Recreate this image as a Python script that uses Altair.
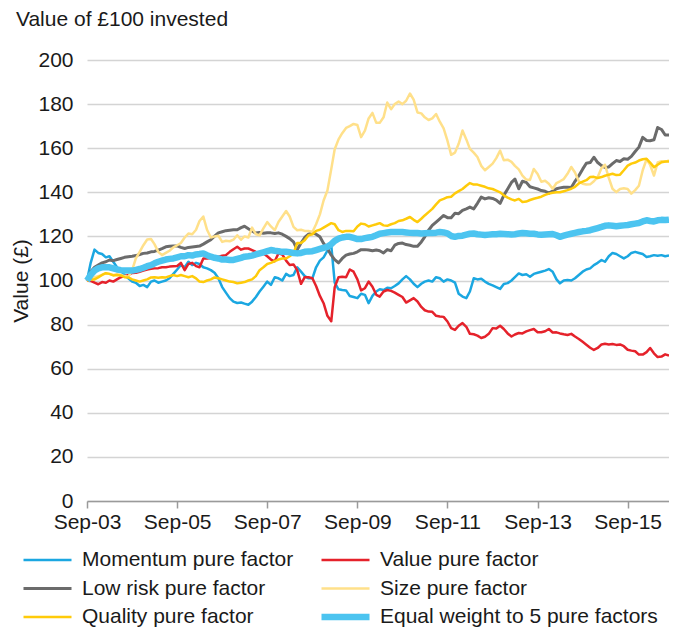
import altair as alt
import pandas as pd

dates = pd.date_range("2003-09-01", "2016-08-01", freq="MS").strftime("%Y-%m-%d").tolist()

momentum = [100, 108, 114, 112.5, 112, 110.5, 111, 108.5, 106, 104.5,
            102.5, 101, 99.5, 99, 97.5, 98, 97, 99.5, 100, 99,
            99.5, 100, 101, 103, 105, 107, 106, 108.5, 107, 108,
            107.5, 106, 105.5, 104.7, 103.5, 101, 97, 94.5, 92, 90.4,
            89.8, 90, 89.5, 89, 90.4, 92.5, 95, 97.2, 99.5, 98,
            101.5, 101, 100, 103, 102, 102.5, 106, 104, 102, 101,
            101, 106, 109, 110.5, 113.5, 116, 99, 96, 95.7, 95.5,
            93, 92.5, 92, 94, 93.5, 89.7, 93, 95, 96, 95.7,
            96.7, 96.5, 97.5, 98.7, 100.5, 102, 100.5, 98.5, 97, 98.5,
            99.5, 100, 99.5, 101.5, 101, 99.5, 100.5, 100, 99, 94,
            92.7, 92, 95, 101, 100.5, 100.8, 99.5, 98.5, 97.8, 97,
            96.2, 98.4, 98.8, 100, 101.5, 103.2, 102.5, 102.8, 101.7, 103,
            103.5, 104, 104.5, 105.2, 104, 100.5, 98.7, 100, 100.2, 100,
            101, 102.5, 104, 105, 105.5, 107, 108, 109.3, 108.5, 111,
            112.5, 112, 111, 110, 111, 112.5, 113, 112.5, 112, 110.7,
            111, 111.5, 111.2, 111.5, 111, 111.3]

value = [100, 99.8, 99, 98.3, 99.3, 99, 100, 99.5, 100.5, 101.5,
         102, 102.5, 103.4, 103.5, 104, 104.5, 105, 105.3, 105.5, 105.6,
         106, 106, 106.3, 106.5, 106.6, 108, 104.7, 107.5, 108, 106.5,
         106, 110, 110, 110.2, 110.5, 110.8, 111.2, 111.5, 113, 114.2,
         115.3, 114, 114.5, 114.5, 113.8, 113, 112.3, 112.3, 111, 109.5,
         108.7, 112.3, 111.8, 109, 107, 107.3, 104.7, 98.5, 101.5, 101.5,
         101, 97.5, 93, 89.7, 84, 81.5, 97, 101.5, 101.7, 101.5,
         105, 104, 100.5, 95.5, 96.5, 99.5, 97.2, 93.5, 92.7, 95,
         95.7, 95.3, 94.5, 93.5, 92.5, 90, 91, 92, 90.5, 88,
         86.5, 85.9, 85.8, 84, 83.7, 83.5, 81.4, 78.4, 77.6, 79.5,
         80.7, 79, 75.8, 75.6, 75, 73.9, 74.5, 75.8, 78.4, 78.2,
         79.5, 78, 76, 74.6, 75.5, 76.2, 76, 76.9, 77.5, 78,
         76.5, 76.5, 77, 78, 76.4, 76.5, 76, 75.6, 75.3, 75.8,
         74.6, 73.5, 72.2, 70.9, 69.5, 68.5, 69.4, 71, 71.3, 71,
         71.2, 70.8, 71, 70.2, 68.6, 68.2, 67.9, 66.4, 66.4, 67.5,
         69.4, 67, 65.3, 65.5, 66.5, 65.9]

low_risk = [100, 104, 106, 107, 108, 108.5, 109.3, 109, 109.5, 110,
            110.5, 110.8, 111, 111.3, 111.8, 112.3, 112.5, 113, 113.2, 113.8,
            114.5, 115.3, 115.5, 115.6, 115.7, 115, 114.5, 115, 115.2, 115.4,
            115.6, 116.5, 117.5, 118.5, 120.1, 121.6, 122.1, 122.6, 122.8, 123,
            123, 124, 124.6, 123.5, 122.5, 121.5, 121.8, 121.4, 121.7, 121.6,
            121.3, 121.6, 121, 120, 119, 117.5, 114, 117, 119.5, 121,
            121.6, 121, 119.8, 116.8, 114.5, 111.5, 109.5, 108, 110, 111.5,
            112, 112.3, 113, 114, 114, 113.8, 113.5, 113.8, 113.5, 112.5,
            114, 113.5, 116, 116.8, 117, 116.3, 116, 115.5, 115.5, 117.5,
            119.8, 122.8, 125, 126.5, 128, 129.5, 128.5, 128.5, 130.5, 130.3,
            131.8, 132.5, 133.3, 132.5, 135, 137.8, 137, 137.5, 137.2, 136.5,
            135, 138.6, 141.5, 144.5, 146, 141.6, 145, 144.5, 142.5, 142,
            141.5, 140.8, 140.5, 139.6, 140.5, 141.6, 142, 142.3, 142.3, 142.2,
            145, 147.5, 150.5, 153.2, 153.5, 155.9, 153.5, 152.1, 151.3, 151.5,
            153, 154.4, 154, 155.2, 155, 156.3, 158.5, 160.5, 164.9, 163.5,
            163.4, 163.8, 169.4, 168.5, 166, 166]

size = [100, 100.5, 101.5, 102, 102.5, 103.3, 103, 102.5, 102.8, 102.5,
        102, 101.7, 104.7, 110, 113, 116, 118.6, 118.8, 116.5, 113,
        111.5, 112.5, 113.5, 115, 116, 117, 119.5, 121.3, 121, 123,
        127, 129, 123, 119.5, 120, 120.3, 117.5, 118, 117.8, 118.5,
        120.5, 118.5, 120, 119.5, 124, 121, 120.5, 123.6, 126.5, 124.5,
        122.8, 126.5, 129, 131.5, 129, 124.3, 122.8, 123, 122.5, 122.5,
        122, 125.5, 130, 136.3, 140.8, 150.5, 159.5, 164, 166.8, 169.2,
        170, 171, 170.5, 165, 168, 173.5, 176, 171.5, 171.5, 174,
        180.7, 177.7, 180, 181.2, 180, 181.5, 184.8, 182, 176.2, 175.8,
        174, 172.8, 173.5, 175.5, 172, 169, 163.4, 157, 158, 162,
        168, 164, 159.7, 158, 156, 152, 150, 151.5, 153, 155.5,
        158.9, 154.5, 154.8, 153.8, 152, 150.4, 147.6, 145.8, 145.6, 150.6,
        148.3, 144.8, 145.2, 143.9, 141.6, 144.2, 145, 146, 148.4, 151.5,
        149, 145, 143.9, 143.5, 143.6, 145, 146.9, 151, 152.5, 146.5,
        141.6, 140.1, 141.5, 141.8, 141.5, 139.4, 141, 143, 150, 155,
        152.5, 147.6, 153.5, 154.1, 153.8, 154.4]

quality = [100, 100.5, 100.5, 101.4, 102.5, 103.3, 103, 102.3, 102.5, 102.3,
           101.5, 101.4, 100.5, 100, 99.5, 100, 100.5, 101.4, 101.5, 101.2,
           101.5, 101.4, 102, 102.5, 102, 102.5, 102, 101.5, 102, 101,
           99.5, 99.3, 100, 100.5, 101.4, 101, 100.5, 100, 99.5, 99.3,
           98.7, 99, 99.3, 100, 100.5, 102, 104.7, 106, 107.5, 108,
           108.8, 109.5, 110, 110, 111, 112.3, 117, 117, 118.3, 120.5,
           121, 122.5, 123, 124, 125, 126, 125.5, 122.8, 122, 122.5,
           122.5, 122.3, 124.5, 125.8, 125.5, 124.5, 125, 125.5, 126, 125,
           124.8, 125.5, 126, 127, 127.3, 128, 128.8, 127.5, 126.5, 128,
           129.5, 131, 132.5, 134.5, 136.3, 137, 137.8, 138, 139.5, 140.5,
           141.5, 143, 144.2, 143.5, 143.5, 143, 142.5, 141.8, 141.5, 140.8,
           140, 138.6, 137.6, 136.8, 136.3, 137, 135.6, 135.8, 136.5, 137.1,
           137.5, 138, 138.8, 139.4, 139.8, 140, 140, 140.5, 141, 141.6,
           142.5, 144, 144.8, 145.5, 146.9, 147, 146.5, 146.9, 147.5, 148,
           148.4, 147.8, 148, 150, 152.1, 153, 153.5, 154.4, 155, 155.2,
           153.5, 151.4, 152.5, 153.6, 154, 154]

equal_weight = [100, 102.5, 104.5, 105.5, 106, 106, 106, 105.5, 105, 104.7,
                104.5, 104.5, 104.5, 104.8, 105.2, 105.8, 106.5, 107, 107.8, 108.5,
                109, 109.5, 109.8, 110, 110.5, 111, 111, 111.5, 111.3, 111.8,
                112, 112.3, 111.5, 110.8, 110.3, 110, 109.5, 109.5, 109.3, 109.3,
                109.8, 110.3, 110.8, 111, 111.3, 111.8, 112.3, 112.8, 113.3, 113.8,
                113.5, 113.3, 113, 113, 112.8, 112.5, 112.3, 112.5, 113, 113.2,
                113.3, 113.8, 114.3, 114.8, 115.3, 116.5, 118, 119, 119.5, 119.8,
                119.8, 119.3, 118.8, 118.8, 119.2, 119.5, 119.8, 120.5, 121.2, 121.5,
                121.8, 122, 122, 122, 122, 121.8, 121.6, 121.5, 121.5, 121.3,
                121.4, 121.5, 121.5, 121.7, 122, 121.8, 121.4, 120.2, 119.8, 120.2,
                120.3, 120.8, 121.2, 121.3, 121, 120.8, 120.6, 120.8, 121, 121,
                121.2, 121.1, 121, 120.9, 121, 121.3, 121.5, 121.4, 121.2, 121.2,
                120.9, 120.8, 120.9, 121, 121.1, 120.5, 119.8, 120.3, 120.8, 121.2,
                121.6, 122, 122.3, 122.5, 122.8, 123.3, 123.8, 124.3, 124.8, 125,
                124.8, 124.6, 124.8, 125, 125.2, 125.5, 125.8, 126.1, 126.8, 127.3,
                127, 126.8, 127.3, 127.5, 127.4, 127.6]

names = ["Momentum pure factor", "Value pure factor", "Low risk pure factor",
         "Size pure factor", "Quality pure factor", "Equal weight to 5 pure factors"]
colors = ["#1BA7E1", "#E5222B", "#6B6B6B", "#FFE08A", "#FFCB0A", "#4CC4F0"]
widths = [2.5, 2.5, 3, 2.5, 2.5, 6.5]
tick_years = [2003, 2005, 2007, 2009, 2011, 2013, 2015]

series_values = [momentum, value, low_risk, size, quality, equal_weight]
rows = []
for name, vals in zip(names, series_values):
    for d, v in zip(dates, vals):
        rows.append({"date": d, "value": v, "series": name})
df = pd.DataFrame(rows)

FONT = "Liberation Sans"
TXT = "#1a1a1a"

legend = alt.Legend(
    title=None, orient="none", legendX=-67, legendY=486, columns=2,
    direction="horizontal", clipHeight=28,
    symbolType="stroke", symbolSize=2304, labelFontSize=21, labelFont=FONT,
    labelColor=TXT, labelOffset=7, labelLimit=500, columnPadding=24,
    rowPadding=0.5, padding=0,
)

chart = alt.Chart(df).mark_line(strokeCap="butt", strokeJoin="round").encode(
    x=alt.X("date:T",
            scale=alt.Scale(domain=[alt.DateTime(year=2003, month=9, date=1),
                                    alt.DateTime(year=2016, month=8, date=1)]),
            axis=alt.Axis(values=[alt.DateTime(year=y, month=9, date=1) for y in tick_years],
                          format="%b-%y", grid=False, title=None,
                          domainColor="#9A9A9A", domainWidth=1.5,
                          tickColor="#9A9A9A", tickWidth=1.5, tickSize=7,
                          labelPadding=3, labelFlush=False)),
    y=alt.Y("value:Q", scale=alt.Scale(domain=[0, 200], nice=False),
            axis=alt.Axis(values=list(range(0, 201, 20)), title="Value (£)",
                          grid=True, gridColor="#D4D4D4", gridWidth=1.5,
                          domain=False, ticks=False, labelPadding=14,
                          titlePadding=6, titleFontWeight="normal")),
    color=alt.Color("series:N", scale=alt.Scale(domain=names, range=colors),
                    sort=names, legend=legend),
    strokeWidth=alt.StrokeWidth("series:N",
                                scale=alt.Scale(type="ordinal", domain=names, range=widths),
                                sort=names, legend=legend),
).properties(
    width=582, height=441,
    title=alt.TitleParams("Value of £100 invested", anchor="start",
                          dx=5, offset=19, fontSize=21,
                          fontWeight="normal", font=FONT, color=TXT),
    autosize=alt.AutoSizeParams(type="none"),
    padding={"left": 79, "top": 52, "right": 0, "bottom": 127},
).configure_view(stroke=None).configure_axis(
    labelFont=FONT, labelFontSize=21, labelColor=TXT,
    titleFont=FONT, titleFontSize=21, titleColor=TXT,
)

chart.save("out.html", embed_options={"renderer": "svg", "actions": False})
